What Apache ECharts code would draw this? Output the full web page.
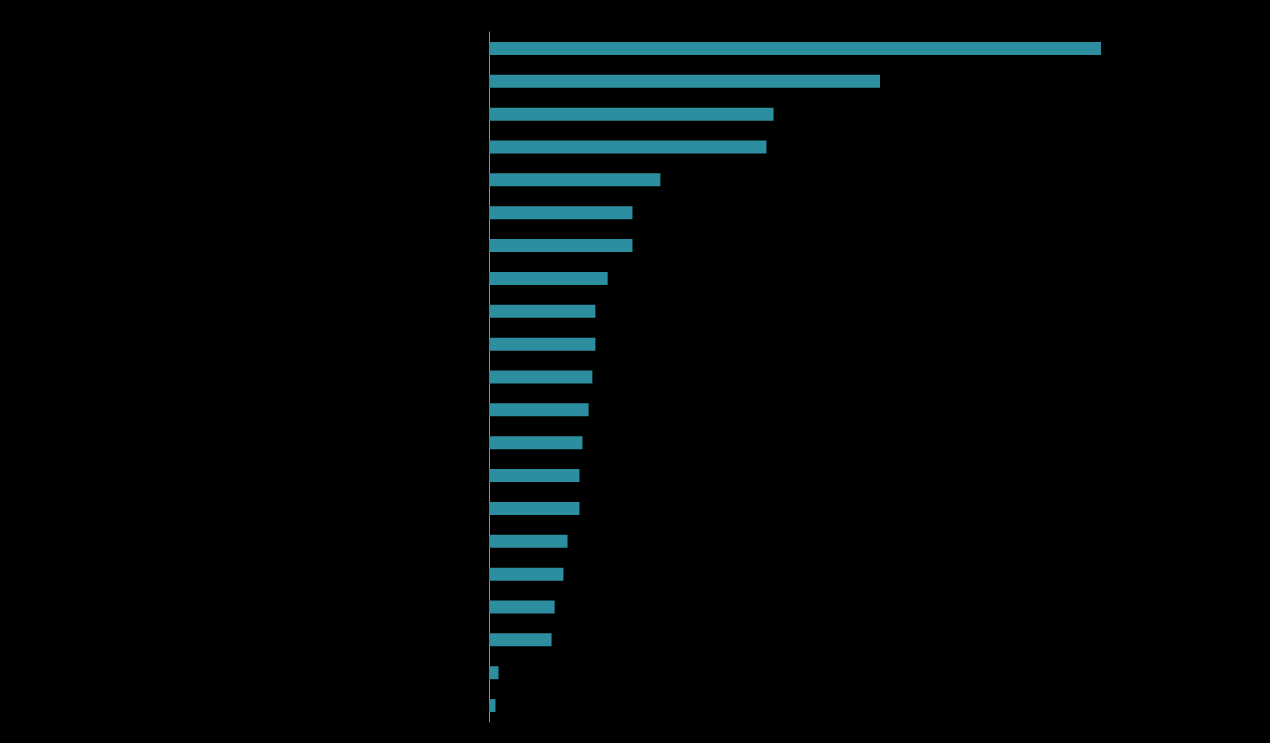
<!DOCTYPE html>
<html>
<head>
<meta charset="utf-8">
<script src="https://cdn.jsdelivr.net/npm/echarts@6/dist/echarts.min.js"></script>
<style>
html,body{margin:0;padding:0;background:#000;}
#chart{width:1270px;height:743px;}
</style>
</head>
<body>
<div id="chart"></div>
<script>
const categories = ['1','2','3','4','5','6','7','8','9','10','11','12','13','14','15','16','17','18','19','20','21'];
const values = [180, 115, 83.7, 81.6, 50.4, 42.2, 42.2, 34.9, 31.3, 31.3, 30.4, 29.3, 27.5, 26.6, 26.6, 23.1, 21.9, 19.3, 18.4, 2.8, 1.9];

const chart = echarts.init(document.getElementById('chart'), null, {renderer: 'canvas'});
chart.setOption({
  backgroundColor: '#000000',
  animation: false,
  grid: {left: 489, right: 101, top: 32, bottom: 21, containLabel: false},
  xAxis: {
    type: 'value',
    min: 0,
    max: 200,
    show: false,
    splitLine: {show: false}
  },
  yAxis: {
    type: 'category',
    data: categories,
    inverse: true,
    axisLine: {show: true, lineStyle: {color: '#8c8c8c', width: 1}},
    axisTick: {show: false},
    axisLabel: {show: false},
    splitLine: {show: false}
  },
  series: [{
    type: 'bar',
    data: values,
    barWidth: 13,
    itemStyle: {color: '#2c8e9e'}
  }]
});
</script>
</body>
</html>
